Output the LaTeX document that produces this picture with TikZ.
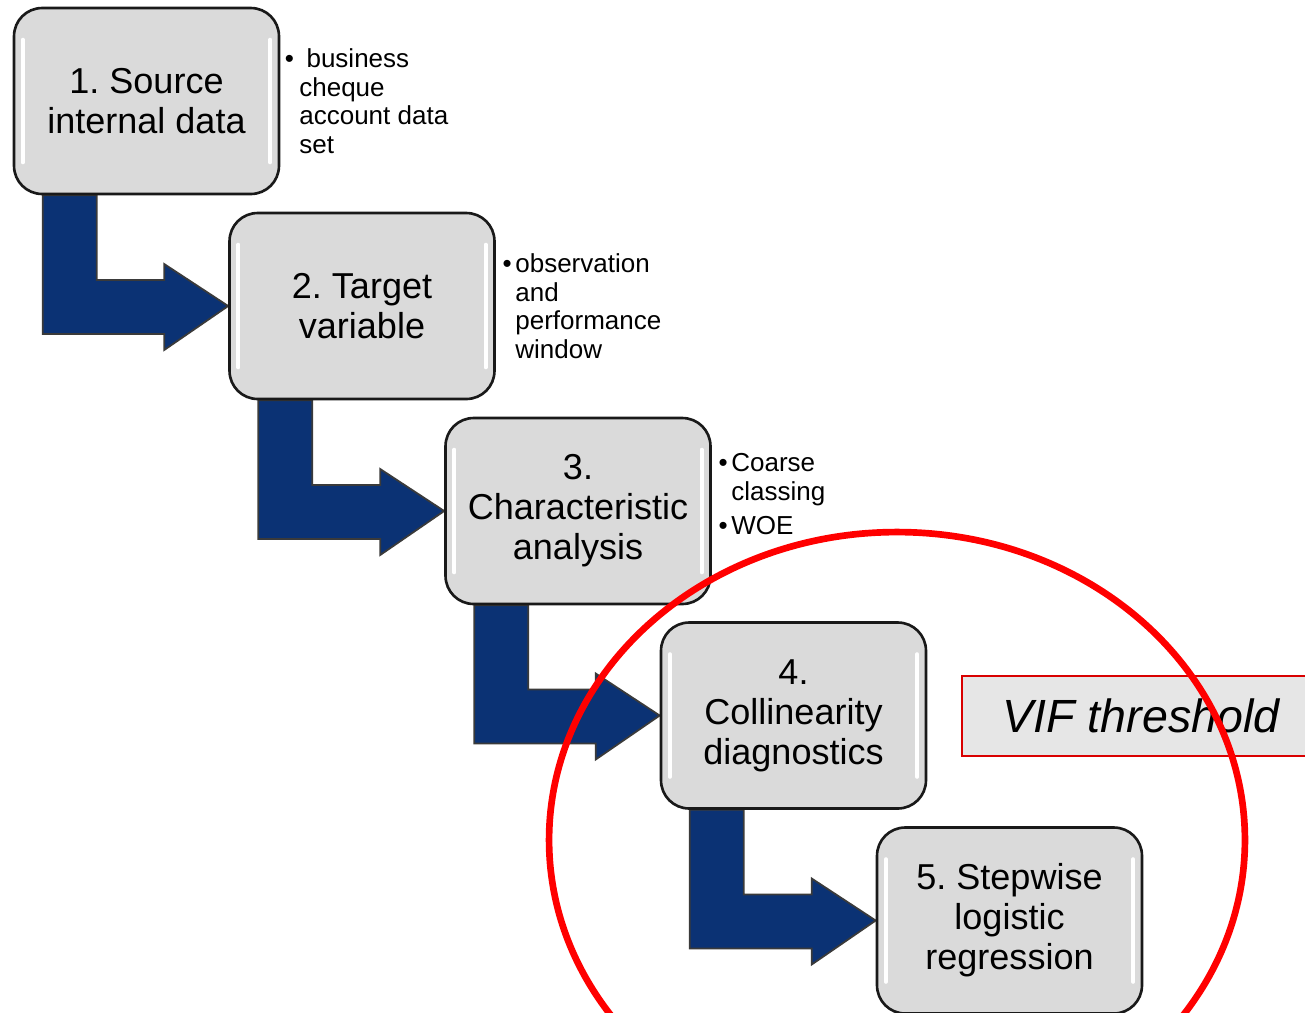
\documentclass[tikz,border=0pt]{standalone}
\usepackage{fontspec}
\setmainfont{Liberation Sans}
\frenchspacing
\usetikzlibrary{calc,backgrounds}

\definecolor{boxgray}{HTML}{DADADA}
\definecolor{vifgray}{HTML}{E6E6E6}
\definecolor{flowblue}{HTML}{0B3274}
\definecolor{flowedge}{HTML}{3A3A3A}
\definecolor{ringred}{HTML}{FF0000}

\tikzset{
  stepbox/.style={draw=black!90, line width=1.5pt, fill=boxgray,
    rounded corners=16pt, minimum width=5.3cm, minimum height=3.72cm,
    align=center, inner sep=2pt, font=\fontsize{20.5}{22.7}\selectfont,
    path picture={
      \draw[white, line width=2.2pt, line cap=round]
        ([xshift=5pt,yshift=-18pt]path picture bounding box.north west)
        -- ([xshift=5pt,yshift=18pt]path picture bounding box.south west)
        ([xshift=-5pt,yshift=-18pt]path picture bounding box.north east)
        -- ([xshift=-5pt,yshift=18pt]path picture bounding box.south east);
    }},
  notetext/.style={anchor=north west, align=left, inner sep=0pt,
    font=\fontsize{14.8}{16.4}\selectfont},
  flowarrow/.style={fill=flowblue, draw=flowedge, line width=1pt},
  vifbox/.style={draw=red!85!black, line width=1.6pt, fill=vifgray,
    minimum width=7.16cm, minimum height=1.6cm,
    font=\fontsize{26.5}{30}\selectfont\itshape},
  redring/.style={draw=ringred, line width=3.8pt}
}

% bent block arrow: out of the bottom of #1, into the left side of #2
\newcommand\stepflow[2]{%
  \coordinate (top) at ($(#1.south west)+(30,0)$);
  \coordinate (tip) at (#2.west);
  \draw[flowarrow] (top) -- ++(54,0) |- ($(tip)+(-64,-26)$) -- ++(0,-16)
    -- (tip) -- ++(-64,44) -- ++(0,-16) -| (top) -- cycle;
}

\begin{document}
\begin{tikzpicture}[x=0.02cm, y=-0.02cm]
  \clip (0,0) rectangle (1305,1012);

  % Steps
  \node[stepbox] (s1) at (146.5,101) {1. Source\\internal data};
  \node[stepbox] (s2) at (362,306) {2. Target\\variable};
  \node[stepbox] (s3) at (578,511) {3.\\Characteristic\\analysis};
  \node[stepbox] (s4) at (793.5,715.5) {4.\\Collinearity\\diagnostics};
  \node[stepbox] (s5) at (1009.5,920.5) {5. Stepwise\\logistic\\regression};

  % Arrows (behind the boxes)
  \begin{pgfonlayer}{background}
    \stepflow{s1}{s2}
    \stepflow{s2}{s3}
    \stepflow{s3}{s4}
    \stepflow{s4}{s5}
  \end{pgfonlayer}

  % Notes
  \node[notetext] (n1) at (299,48)
    {\llap{\textbullet\hspace{3pt}}\ business\\cheque\\account data\\set};
  \node[notetext] (n2) at (515,253)
    {\llap{\textbullet\hspace{2pt}}observation\\and\\performance\\window};
  \node[notetext] (n3) at (731,453)
    {\llap{\textbullet\hspace{2pt}}Coarse\\classing\\[2.8pt]\llap{\textbullet\hspace{2pt}}WOE};

  % VIF box and ring
  \node[vifbox] (vif) at (1141,716) {VIF threshold};
  \draw[redring] (897,840) ellipse [x radius=6.96cm, y radius=6.16cm];
\end{tikzpicture}
\end{document}
